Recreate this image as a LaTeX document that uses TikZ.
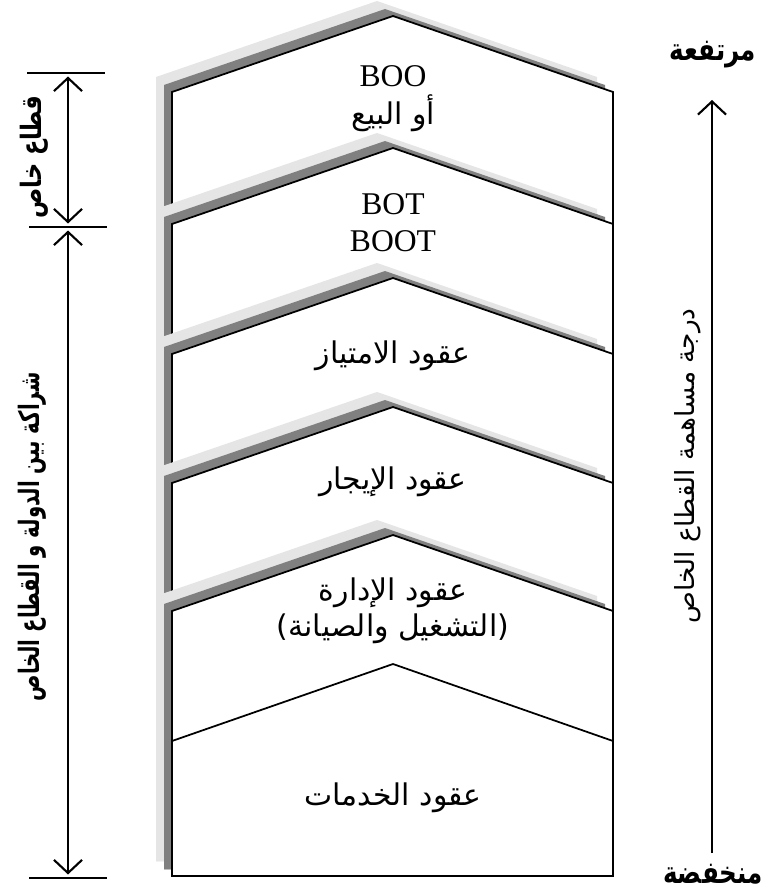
\documentclass[tikz,border=0pt]{standalone}
\usepackage{fontspec}
\setmainfont{Liberation Serif}
\newfontfamily\arabicfont[Script=Arabic]{DejaVu Sans}
\newfontfamily\arabiccond[Script=Arabic, FakeStretch=0.8]{DejaVu Sans}
\newfontfamily\arabicnarrow[Script=Arabic, FakeStretch=0.7]{DejaVu Sans}
\TeXXeTstate=1
\usetikzlibrary{arrows.meta}

\begin{document}
\begin{tikzpicture}[
  x=0.02cm, y=-0.02cm,
  every node/.style={inner sep=0pt},
  lightshade/.style={fill=black!10},
  darkshade/.style={fill=black!50},
  housebox/.style={draw, fill=white, line width=1pt},
  latintext/.style={font=\fontsize{18}{21}\selectfont},
  artext/.style={font=\arabicfont\fontsize{17}{20}\selectfont},
  sidetext/.style={font=\arabicnarrow\bfseries\fontsize{16}{19}\selectfont, rotate=90},
  endtext/.style={font=\arabiccond\bfseries\fontsize{17.5}{20}\selectfont},
  dimarrow/.style={{Straight Barb[length=7.5pt,width=16pt]}-{Straight Barb[length=7.5pt,width=16pt]}, line width=1.2pt},
  uparrow/.style={-{Straight Barb[length=7.5pt,width=16pt]}, line width=1.2pt},
  tickline/.style={line width=1pt}
]
\useasboundingbox (0,0) rectangle (768,892);

% Stacked layers with shadow
\foreach \a in {16,148,278,407,535}{
  \pgfmathsetmacro\s{\a+76}
  \fill[lightshade, shift={(-16,-15)}] (172,\s) -- (393,\a) -- (613,\s) -- (613,876) -- (172,876) -- cycle;
  \fill[darkshade, shift={(-8,-7)}] (172,\s) -- (393,\a) -- (613,\s) -- (613,876) -- (172,876) -- cycle;
  \draw[housebox] (172,\s) -- (393,\a) -- (613,\s) -- (613,876) -- (172,876) -- cycle;
}
% Last layer
\draw[line width=1pt] (172,741) -- (393,664) -- (613,741);

% Layer texts
\node[latintext] (boo)  at (393,76)  {BOO};
\node[artext]    (sale) at (393,113) {\beginR أو البيع\endR};
\node[latintext] (bot)  at (393,204) {BOT};
\node[latintext] (boot) at (393,241) {BOOT};
\node[artext] (concession) at (393,356) {\beginR عقود الامتياز\endR};
\node[artext] (lease)      at (393,482) {\beginR عقود الإيجار\endR};
\node[artext] (mgmt)       at (393,593) {\beginR عقود الإدارة\endR};
\node[artext] (om)         at (393,629) {\beginR (التشغيل والصيانة)\endR};
\node[artext] (services)   at (393,798) {\beginR عقود الخدمات\endR};

% Left scale
\coordinate (topl) at (27,73);   \coordinate (topr) at (105,73);
\coordinate (midl) at (29,227);  \coordinate (midr) at (107,227);
\coordinate (botl) at (29,878);  \coordinate (botr) at (107,878);
\coordinate (top)  at (68,73);
\coordinate (mid)  at (68,227);
\coordinate (bot)  at (68,878);
\draw[tickline] (topl) -- (topr);
\draw[tickline] (midl) -- (midr);
\draw[tickline] (botl) -- (botr);
\draw[dimarrow] ([yshift=-2pt]top) -- ([yshift=2pt]mid);
\draw[dimarrow] ([yshift=-2pt]mid) -- ([yshift=2pt]bot);
\node[sidetext, font=\arabiccond\bfseries\fontsize{16}{19}\selectfont] (private) at (34,157) {\beginR قطاع خاص\endR};
\node[sidetext] (ppp) at (32,537) {\beginR شراكة بين الدولة و القطاع الخاص\endR};

% Right scale
\node[endtext] (high) at (713,55)  {\beginR مرتفعة\endR};
\node[endtext] (low)  at (713,874) {\beginR منخفضة\endR};
\coordinate (axisbot) at (712,853);
\coordinate (axistop) at (712,100);
\draw[uparrow] (axisbot) -- (axistop);
\node[font=\arabicfont\fontsize{15}{18}\selectfont, rotate=90] (share) at (688,466) {\beginR درجة مساهمة القطاع الخاص\endR};
\end{tikzpicture}
\end{document}
